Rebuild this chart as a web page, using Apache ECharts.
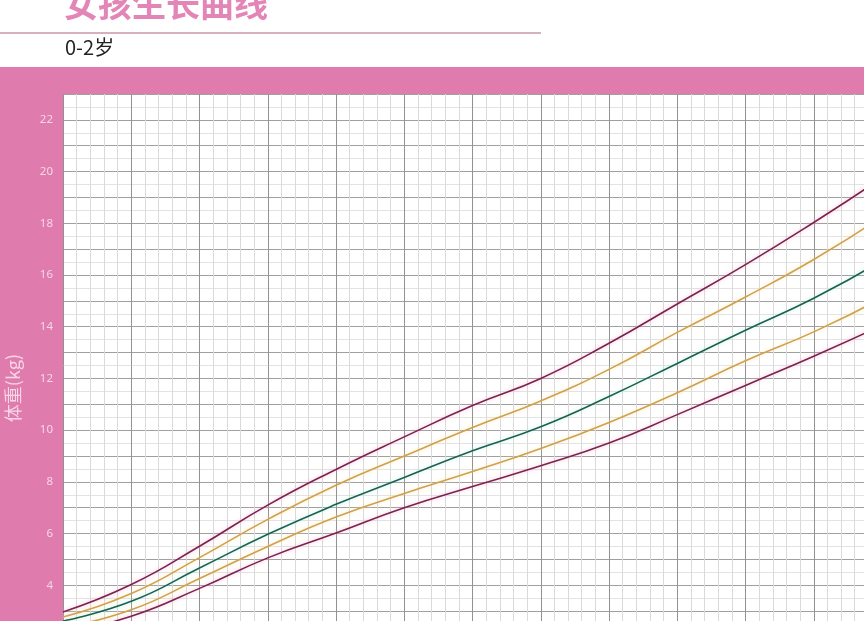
<!DOCTYPE html>
<html>
<head>
<meta charset="utf-8">
<script src="https://cdn.jsdelivr.net/npm/echarts@6/dist/echarts.min.js"></script>
<style>
html,body{margin:0;padding:0;overflow:hidden;width:864px;height:621px;}
#c{width:882px;height:637px;background:linear-gradient(to bottom,#ffffff 0px,#ffffff 67px,#DF7BAD 67px,#DF7BAD 100%);}
</style>
</head>
<body>
<div id="c"></div>
<script>
// Data (months, weight in kg)
var months = [0, 2, 4, 6, 8, 10, 12, 14, 16, 18, 20, 22, 24];
var p97 = [2.97, 4.03, 5.51, 7.10, 8.48, 9.74, 10.95, 12.0, 13.36, 14.88, 16.4, 18.03, 19.75];
var p85 = [2.77, 3.68, 5.07, 6.55, 7.87, 9.0, 10.1, 11.13, 12.35, 13.78, 15.15, 16.6, 18.25];
var p50 = [2.62, 3.38, 4.67, 5.97, 7.13, 8.17, 9.2, 10.13, 11.3, 12.58, 13.86, 15.1, 16.55];
var p15 = [2.35, 3.05, 4.26, 5.5, 6.64, 7.55, 8.4, 9.29, 10.3, 11.45, 12.68, 13.8, 15.1];
var p3  = [2.15, 2.8, 3.88, 5.06, 6.02, 7.0, 7.82, 8.62, 9.5, 10.6, 11.73, 12.86, 14.05];
var yTickLabels = [4, 6, 8, 10, 12, 14, 16, 18, 20, 22];

var titleText = '女孩生长曲线';
var subtitleText = '0-2岁';
var yName = '体重(kg)';

function pairs(vals){ return months.map(function(m,i){ return [m, vals[i]]; }); }

var chart = echarts.init(document.getElementById('c'), null, {renderer:'canvas'});

function lineSeries(name, vals, color, glow){
  return {
    name: name, type: 'line', data: pairs(vals), smooth: 0.5,
    symbol: 'none', silent: true,
    lineStyle: {color: color, width: 1.6, shadowColor: glow, shadowBlur: 4}
  };
}

chart.setOption({
  backgroundColor: 'transparent',
  animation: false,
  grid: {left: 63, top: 94, right: 0, bottom: 0, show: true, backgroundColor: '#ffffff', borderWidth: 0},
  xAxis: {
    type: 'value', min: 0, max: 24, interval: 2,
    axisLine: {show: false}, axisTick: {show: false}, axisLabel: {show: false},
    splitLine: {show: true, lineStyle: {color: '#929292', width: 1}},
    minorTick: {show: false, splitNumber: 5},
    minorSplitLine: {show: true, lineStyle: {color: '#dadada', width: 1}}
  },
  yAxis: {
    type: 'value', min: 2, max: 23, interval: 1,
    axisLine: {show: false}, axisTick: {show: false},
    axisLabel: {
      margin: 10, color: '#F7D6E6', fontSize: 11.5, fontFamily: 'Noto Sans, sans-serif',
      formatter: function(v){ return yTickLabels.indexOf(v) >= 0 ? String(v) : ''; }
    },
    splitLine: {show: true, lineStyle: {color: '#a0a0a0', width: 1}},
    minorTick: {show: false, splitNumber: 2},
    minorSplitLine: {show: true, lineStyle: {color: '#e3e3e3', width: 1}}
  },
  series: [
    lineSeries('P97', p97, '#7A2350', 'rgba(245,165,195,0.7)'),
    lineSeries('P85', p85, '#CFA04F', 'rgba(252,228,165,0.7)'),
    lineSeries('P50', p50, '#1B6152', 'rgba(175,235,210,0.7)'),
    lineSeries('P15', p15, '#CFA04F', 'rgba(252,228,165,0.7)'),
    lineSeries('P3',  p3,  '#7A2350', 'rgba(245,165,195,0.7)')
  ],
  graphic: [
    {type: 'text', left: 64, top: -13, style: {text: titleText, fill: '#E385B6', font: 'bold 34px "Noto Sans CJK SC", sans-serif'}},
    {type: 'line', shape: {x1: 0, y1: 33, x2: 541, y2: 33}, style: {stroke: '#C995AD', lineWidth: 1.5}},
    {type: 'text', left: 65, top: 37, style: {text: subtitleText, fill: '#222222', font: '20px "Noto Sans CJK SC", sans-serif'}},
    {type: 'text', x: 13, y: 388, rotation: Math.PI/2, style: {text: yName, fill: '#F7D6E6', font: '18px "Noto Sans CJK SC", sans-serif', align: 'center', verticalAlign: 'middle'}}
  ]
});
</script>
</body>
</html>
